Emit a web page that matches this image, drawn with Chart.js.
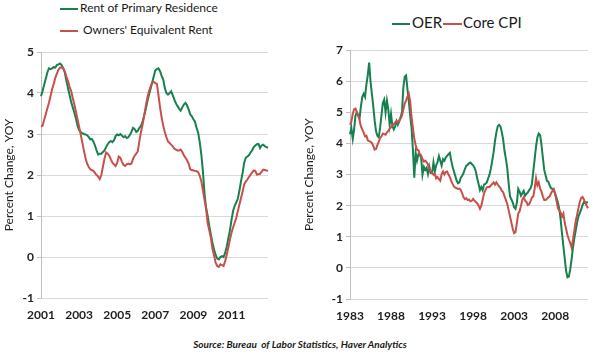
<!DOCTYPE html>
<html>
<head>
<meta charset="utf-8">
<script src="https://cdn.jsdelivr.net/npm/chart.js@4.4.1/dist/chart.umd.min.js"></script>
<style>
  body { margin: 0; background: #fff; width: 600px; height: 352px; position: relative; overflow: hidden; font-family: Lato, sans-serif; color: #222; }
  canvas { position: absolute; top: 40px; }
  #leftChart { left: 0; }
  #rightChart { left: 300px; }
  .legend { position: absolute; white-space: nowrap; color: #1a1a1a; }
  .legend .item { position: absolute; white-space: nowrap; }
  .swatch { display: inline-block; height: 2px; vertical-align: middle; }
  #source { position: absolute; left: 0; width: 600px; top: 338px; text-align: center; font-size: 10px; font-weight: bold; font-style: italic; color: #1a1a1a; }
</style>
</head>
<body>
<canvas id="leftChart" width="300" height="290"></canvas>
<canvas id="rightChart" width="300" height="290"></canvas>

<div class="legend" style="left:0;top:0;font-size:12px;">
  <div class="item" style="left:60px;top:0px;"><span class="swatch" style="width:18px;background:#17804f;"></span><span style="margin-left:2px;">Rent of Primary Residence</span></div>
  <div class="item" style="left:60px;top:22px;"><span class="swatch" style="width:18px;background:#c8504a;"></span><span style="margin-left:5px;">Owners' Equivalent Rent</span></div>
</div>
<div class="legend" style="left:0;top:0;font-size:15px;">
  <div class="item" style="left:392px;top:13px;"><span class="swatch" style="width:18px;background:#17804f;"></span><span style="margin-left:2px;">OER</span><span class="swatch" style="width:19px;background:#c8504a;margin-left:1px;"></span><span style="margin-left:1px;">Core CPI</span></div>
</div>
<div id="source">Source: Bureau&nbsp; of Labor Statistics, Haver Analytics</div>

<script>
// Left panel: monthly, Jan 2001 - Dec 2012
const leftTickYears = ['2001', '2003', '2005', '2007', '2009', '2011'];
const rentPrimary = [
  3.92, 4.05, 4.2, 4.35, 4.5, 4.6, 4.58, 4.6, 4.63, 4.62, 4.68, 4.7,
  4.72, 4.68, 4.6, 4.5, 4.3, 4.12, 3.95, 3.78, 3.65, 3.52, 3.38, 3.2,
  3.1, 3.05, 3.02, 3.0, 2.99, 2.97, 2.93, 2.87, 2.88, 2.82, 2.72, 2.6,
  2.5, 2.52, 2.52, 2.56, 2.6, 2.68, 2.75, 2.8, 2.83, 2.8, 2.85, 2.95,
  2.99, 2.97, 3.0, 2.96, 2.92, 2.95, 2.9, 2.92, 2.98, 3.05, 3.15, 3.12,
  3.05, 3.08, 3.15, 3.2, 3.3, 3.45, 3.6, 3.8, 3.95, 4.1, 4.25, 4.4,
  4.55, 4.58, 4.6, 4.53, 4.42, 4.33, 4.12, 4.0, 3.96, 4.0, 4.04, 3.95,
  3.84, 3.75, 3.68, 3.62, 3.57, 3.65, 3.72, 3.76, 3.7, 3.6, 3.48, 3.43,
  3.36, 3.3, 3.15, 3.03, 2.8, 2.5, 2.09, 1.55, 1.2, 1.0, 0.75, 0.55,
  0.35, 0.18, 0.05, -0.04, -0.06, 0.0, 0.02, 0.0, 0.1, 0.25, 0.45, 0.65,
  0.9, 1.12, 1.25, 1.33, 1.42, 1.62, 1.85, 2.05, 2.3, 2.42, 2.45, 2.48,
  2.55, 2.6, 2.68, 2.72, 2.75, 2.76, 2.66, 2.72, 2.74, 2.7, 2.68, 2.66
];
const ownersEquivRent = [
  3.19, 3.2, 3.35, 3.48, 3.62, 3.76, 3.92, 4.09, 4.22, 4.37, 4.47, 4.57,
  4.62, 4.63, 4.6, 4.53, 4.4, 4.29, 4.15, 4.05, 3.88, 3.72, 3.55, 3.36,
  3.18, 2.99, 2.8, 2.6, 2.42, 2.28, 2.2, 2.14, 2.12, 2.1, 2.05, 2.0,
  1.96, 1.9, 2.0, 2.2, 2.4, 2.55, 2.52, 2.47, 2.38, 2.3, 2.26, 2.22,
  2.3, 2.45, 2.42, 2.32, 2.25, 2.22, 2.26, 2.28, 2.26, 2.28, 2.4, 2.47,
  2.52, 2.58, 2.83, 3.05, 3.23, 3.45, 3.68, 3.88, 4.04, 4.15, 4.25, 4.27,
  4.24, 4.22, 3.95, 3.65, 3.4, 3.2, 3.05, 2.92, 2.82, 2.78, 2.74, 2.7,
  2.64, 2.62, 2.6, 2.6, 2.62, 2.56, 2.48, 2.42, 2.36, 2.28, 2.14, 2.12,
  2.11, 2.1, 2.09, 2.07, 1.98, 1.85, 1.62, 1.4, 1.18, 0.82, 0.65, 0.47,
  0.2, 0.05, -0.14, -0.22, -0.24, -0.18, -0.2, -0.22, -0.1, 0.05, 0.23, 0.42,
  0.59, 0.72, 0.84, 0.95, 1.12, 1.28, 1.44, 1.6, 1.77, 1.84, 1.89, 1.95,
  2.01, 2.06, 2.11, 2.1, 2.01, 2.02, 2.03, 2.08, 2.13, 2.12, 2.11, 2.1
];

// Right panel: every other month, Jan 1983 - Jan 2012
const rightTickYears = ['1983', '1988', '1993', '1998', '2003', '2008'];
const oerYoy = [
  4.3, 4.5, 4.15, 4.45, 4.9, 5.0,
  4.9, 4.82, 5.2, 5.5, 5.6, 5.5,
  5.9, 6.2, 6.6, 6.0, 5.6, 5.2,
  4.75, 4.4, 4.25, 4.2, 4.5, 4.9,
  5.3, 5.41, 5.0, 5.38, 5.1, 4.6,
  4.95, 4.56, 4.45, 4.55, 4.72, 4.6,
  4.7, 4.85, 5.0, 5.8, 6.15, 6.19,
  5.75, 5.35, 4.9, 4.5, 3.8, 2.9,
  3.7, 3.45, 3.65, 3.62, 3.55, 3.0,
  3.25, 3.15, 3.22, 3.02, 3.25, 3.05,
  3.05, 3.39, 3.1, 3.3, 3.4, 3.6,
  3.45, 3.29, 3.5, 3.45, 3.55, 3.6,
  3.66, 3.7, 3.45, 3.25, 3.1, 2.95,
  2.8, 2.72, 2.75, 2.9, 2.96, 3.05,
  3.18, 3.28, 3.32, 3.36, 3.39, 3.34,
  3.3, 3.22, 3.1, 2.88, 2.7, 2.5,
  2.6, 2.5, 2.68, 2.7, 2.75, 2.88,
  3.0, 3.2, 3.45, 3.72, 4.08, 4.35,
  4.55, 4.6, 4.55, 4.36, 4.12, 3.75,
  3.5, 3.2, 2.7, 2.3, 2.2, 2.1,
  1.95, 1.9, 2.1, 2.54, 2.45, 2.32,
  2.4, 2.48, 2.32, 2.38, 2.43, 2.5,
  2.56, 2.7, 3.1, 3.5, 3.9, 4.2,
  4.32, 4.27, 3.95, 3.55, 3.15, 2.98,
  2.8, 2.77, 2.65, 2.56, 2.54, 2.5,
  2.38, 2.25, 2.1, 1.9, 1.55, 1.1,
  0.7, 0.3, -0.1, -0.3, -0.28, -0.05,
  0.27, 0.65, 0.95, 1.2, 1.45, 1.66,
  1.76, 1.88, 2.02, 2.11, 2.08, 2.11,
  2.1
];
const coreCpi = [
  4.6, 4.7, 4.95, 5.1, 5.12, 5.0,
  4.9, 4.75, 4.55, 4.45, 4.35, 4.23,
  4.25, 4.1, 4.08, 4.05, 4.02, 3.92,
  3.8, 3.82, 3.95, 4.05, 4.18, 4.23,
  4.32, 4.3, 4.28, 4.36, 4.4, 4.48,
  4.52, 4.58, 4.62, 4.68, 4.72, 4.68,
  4.75, 4.8, 4.9, 5.1, 5.28, 5.38,
  5.5, 5.6, 5.35, 4.85, 4.5, 4.15,
  3.95, 3.8, 3.78, 3.66, 3.62, 3.5,
  3.42, 3.45, 3.4, 3.33, 3.15, 3.12,
  3.05, 3.0, 3.03, 2.88, 2.92, 2.85,
  2.8, 3.02, 3.1, 3.0, 3.08, 3.1,
  3.0, 2.92, 2.8, 2.7, 2.62, 2.58,
  2.56, 2.54, 2.55, 2.5, 2.4, 2.27,
  2.21, 2.24, 2.18, 2.2, 2.14, 2.16,
  2.22, 2.16, 2.12, 2.08, 2.0, 1.9,
  2.0, 2.2, 2.4, 2.5, 2.59, 2.6,
  2.6, 2.65, 2.7, 2.75, 2.68, 2.75,
  2.68, 2.62, 2.57, 2.48, 2.43, 2.3,
  2.18, 2.05, 1.85, 1.65, 1.45, 1.25,
  1.12, 1.15, 1.45, 1.75, 1.82, 2.0,
  2.2, 2.27, 2.16, 2.12, 2.02, 2.05,
  2.15, 2.27, 2.3, 2.55, 2.88, 2.65,
  2.75, 2.55, 2.45, 2.3, 2.18, 2.18,
  2.22, 2.27, 2.3, 2.4, 2.48, 2.54,
  2.38, 2.15, 1.92, 1.85, 1.78, 1.65,
  1.75, 1.45, 1.25, 1.05, 0.92, 0.8,
  0.65, 0.9, 1.2, 1.5, 1.7, 1.92,
  2.12, 2.25, 2.28, 2.2, 2.1, 2.0,
  1.92
];

const green = '#17804f';
const red = '#c8504a';

// "YYYY-M" category labels
const leftMonths = [];
for (let y = 2001; y <= 2012; y++) {
  for (let m = 1; m <= 12; m++) leftMonths.push(y + '-' + m);
}
const rightMonths = [];
for (let y = 1983; y <= 2012; y++) {
  for (let m = 1; m <= 11; m += 2) {
    if (rightMonths.length < oerYoy.length) rightMonths.push(y + '-' + m);
  }
}

Chart.defaults.font.family = 'Lato, sans-serif';
Chart.defaults.color = '#1f1f1f';
Chart.defaults.animation = false;

function lineSet(data, color) {
  return { data: data, borderColor: color, borderWidth: 2, pointRadius: 0, tension: 0, fill: false };
}

function makeChart(canvasId, labels, series, tickYears, yMin, yMax, yWidth, pad) {
  return new Chart(document.getElementById(canvasId), {
    type: 'line',
    data: { labels: labels, datasets: series },
    options: {
      responsive: false,
      layout: { padding: pad },
      plugins: { legend: { display: false }, tooltip: { enabled: false } },
      scales: {
        x: {
          grid: { display: false },
          border: { display: false },
          afterFit: function (scale) { scale.height = 290 - pad.top - (pad.plotH); },
          ticks: {
            autoSkip: false,
            maxRotation: 0,
            padding: 2,
            font: { size: 12, weight: 'bold' },
            callback: function (value) {
              const parts = this.getLabelForValue(value).split('-');
              return (parts[1] === '1' && tickYears.includes(parts[0])) ? parts[0] : null;
            }
          }
        },
        y: {
          min: yMin,
          max: yMax,
          afterFit: function (scale) { scale.width = yWidth; },
          grid: { color: '#d9d9d9', tickColor: '#bfbfbf', tickLength: 4, lineWidth: 1 },
          border: { color: '#bfbfbf' },
          ticks: { stepSize: 1, padding: 3, font: { size: 12, weight: 'bold' } },
          title: { display: true, text: 'Percent Change, YOY', font: { size: 12 }, padding: { top: 2, bottom: 0 } }
        }
      }
    }
  });
}

makeChart('leftChart', leftMonths,
  [lineSet(ownersEquivRent, red), lineSet(rentPrimary, green)],
  leftTickYears, -1, 5, 41, { top: 12, right: 32, left: 0, bottom: 0, plotH: 246 });

makeChart('rightChart', rightMonths,
  [lineSet(coreCpi, red), lineSet(oerYoy, green)],
  rightTickYears, -1, 7, 50, { top: 9, right: 12, left: 0, bottom: 0, plotH: 250 });
</script>
</body>
</html>
